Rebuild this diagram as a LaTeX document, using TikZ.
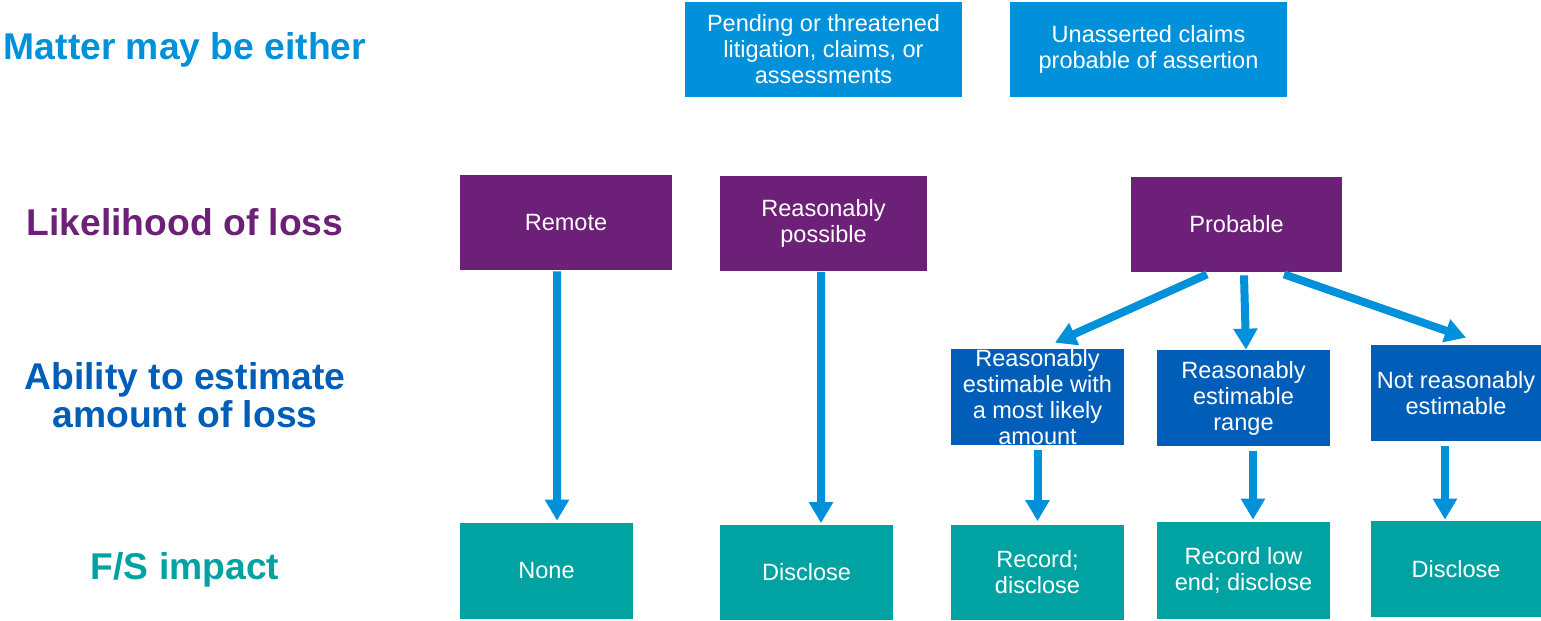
\documentclass[tikz,border=0pt]{standalone}
\usepackage{fontspec}
\setmainfont{Liberation Sans}
\usetikzlibrary{arrows.meta,calc}

\definecolor{kLight}{HTML}{0091DA}
\definecolor{kPurple}{HTML}{6D2077}
\definecolor{kDark}{HTML}{005EB8}
\definecolor{kTeal}{HTML}{00A3A1}

\begin{document}
\begin{tikzpicture}[
  x=0.02cm,
  y=-0.02cm,
  box/.style={fill=#1, text=white, inner sep=0pt, align=center, minimum width=3.46cm, minimum height=1.9cm, font=\fontsize{13.4}{14.8}\selectfont},
  lbl/.style={text=#1, align=center, font=\fontsize{21.2}{21.6}\selectfont\bfseries},
  flow/.style={draw=kLight, line width=0.16cm, -{Triangle[width=0.46cm, length=0.42cm]}}
]
\useasboundingbox (0,0) rectangle (1541,620);

% Row labels on the left
\node[lbl=kLight]  (lMatter) at (185,50)  {Matter may be either};
\node[lbl=kPurple] (lLike)   at (185,222) {Likelihood of loss};
\node[lbl=kDark]   (lAbil)   at (185,395) {Ability to estimate\\amount of loss};
\node[lbl=kTeal]   (lImpact) at (185,570) {F/S impact};

% Kind of matter
\node[box=kLight, minimum width=5.54cm] (pend)  at (823.5,49.5)  {Pending or threatened\\litigation, claims, or\\assessments};
\node[box=kLight, minimum width=5.54cm] (unass) at (1148.5,49.5) {Unasserted claims\\probable of assertion};

% Likelihood of loss
\node[box=kPurple, minimum width=4.24cm] (remote)   at (566,222.5)   {Remote};
\node[box=kPurple, minimum width=4.14cm] (possible) at (823.5,223)   {Reasonably\\possible};
\node[box=kPurple, minimum width=4.22cm] (prob)     at (1236.5,224.5) {Probable};

% Ability to estimate
\node[box=kDark, minimum height=1.92cm] (est1) at (1037.5,397) {Reasonably\\estimable with\\a most likely\\amount};
\node[box=kDark, minimum height=1.92cm] (est2) at (1243.5,398) {Reasonably\\estimable\\range};
\node[box=kDark, minimum width=3.4cm, minimum height=1.92cm] (est3) at (1456,393) {Not reasonably\\estimable};

% F/S impact
\node[box=kTeal, minimum height=1.92cm] (none)  at (546.5,571)  {None};
\node[box=kTeal]                        (disc1) at (806.5,572)  {Disclose};
\node[box=kTeal]                        (rec1)  at (1037.5,572) {Record;\\disclose};
\node[box=kTeal, minimum height=1.94cm] (rec2)  at (1243.5,570.5) {Record low\\end; disclose};
\node[box=kTeal, minimum width=3.4cm, minimum height=1.92cm] (disc2) at (1456,569) {Disclose};

% Connectors
\draw[flow] ($(remote.south)+(-9,1)$) -- ($(none.north)+(10.5,-2)$);
\draw[flow] ($(possible.south)+(-2.5,1)$) -- ($(disc1.north)+(14.5,-1)$);
\draw[flow] ($(prob.south)+(-29.5,2)$) -- ($(est1.north)+(17.5,-6)$);
\draw[flow] ($(prob.south)+(7.5,3)$) -- ($(est2.north)+(2.5,0)$);
\draw[flow] ($(prob.south)+(47.5,2)$) -- ($(est3.north)+(10,-7)$);
\draw[flow] ($(est1.south)+(0,5)$) -- ($(rec1.north)+(0,-3)$);
\draw[flow] ($(est2.south)+(9.5,5)$) -- ($(rec2.north)+(9.5,-2)$);
\draw[flow] ($(est3.south)+(-11,5)$) -- ($(disc2.north)+(-11,-1)$);

\end{tikzpicture}
\end{document}
